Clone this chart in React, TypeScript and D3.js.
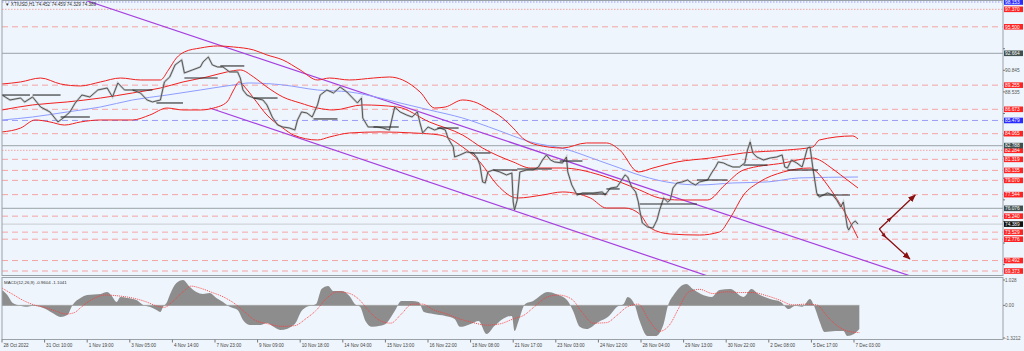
import React from "react";
import * as d3 from "d3";

const W = 1024;
const H = 351;

// ---------- axis labels ----------
const xLabels = [
  "28 Oct 2022", "31 Oct 10:00", "1 Nov 19:00", "3 Nov 05:00", "4 Nov 14:00",
  "7 Nov 23:00", "9 Nov 09:00", "10 Nov 18:00", "14 Nov 04:00", "15 Nov 13:00",
  "16 Nov 22:00", "18 Nov 08:00", "21 Nov 17:00", "23 Nov 03:00", "24 Nov 12:00",
  "28 Nov 04:00", "29 Nov 13:00", "30 Nov 22:00", "2 Dec 08:00", "5 Dec 17:00",
  "7 Dec 03:00",
];
const BARS_PER_LABEL = 32;
const priceTicks = [93.155, 90.845, 88.535, 86.225, 83.915, 81.605, 79.295, 76.985, 74.675, 72.365, 70.055];
const macdTicks = [1.028, 0.0, -1.3212];
const macdTickText = ["1.028", "0.00", "-1.3212"];

// ---------- horizontal levels ----------
const levelsRed = [97.37, 95.5, 89.255, 86.673, 84.065, 82.284, 81.319, 80.135, 79.07, 77.544, 75.24, 73.529, 72.776, 70.492, 69.373];
const levelsRedDotted = [97.37, 82.284];
const levelsBlue = [98.153, 85.479];
const levelsGray = [92.664, 82.788, 76.076];
const lastPrice = 74.389;

// ---------- price path [bar, price] ----------
const price: [number, number][] = [
  [0, 88.2], [6, 87.67], [14, 87.88], [17, 87.45], [23, 87.99], [29, 86.92], [36, 86.39], [42, 85.32],
  [46, 85.74], [51, 86.39], [55, 87.35], [60, 88.2], [66, 87.99], [72, 88.74], [79, 88.95], [83, 87.99],
  [87, 89.49], [92, 88.74], [98, 88.74], [104, 88.42], [109, 87.67], [113, 87.46], [119, 87.67], [122, 89.6],
  [126, 90.13], [130, 91.42], [135, 91.95], [137, 90.56], [143, 90.88], [149, 91.2], [151, 91.74], [155, 92.27],
  [158, 91.42], [162, 91.2], [166, 91.2], [171, 90.67], [177, 90.67], [179, 90.02], [181, 88.74], [184, 88.2],
  [189, 87.88], [196, 87.67], [199, 87.14], [203, 85.85], [207, 85.0], [211, 84.78], [216, 84.67], [220, 84.46],
  [222, 85.53], [225, 86.39], [229, 86.28], [233, 85.85], [237, 87.14], [239, 88.2], [244, 88.74], [249, 88.42],
  [254, 89.06], [259, 88.53], [267, 87.35], [270, 87.88], [271, 85.74], [275, 84.78], [282, 84.78], [286, 84.67],
  [291, 84.46], [295, 86.92], [299, 86.39], [304, 86.06], [308, 85.85], [312, 86.39], [314, 85.21], [316, 84.14],
  [320, 84.78], [325, 84.46], [329, 84.67], [333, 84.46], [335, 83.6], [339, 82.64], [340, 81.57], [344, 81.79],
  [349, 82.11], [354, 82.0], [357, 81.46], [359, 80.72], [361, 78.9], [363, 78.79], [365, 79.97], [369, 80.18],
  [374, 79.97], [379, 79.65], [383, 79.86], [384, 76.76], [385, 75.9], [387, 76.97], [389, 79.97], [394, 80.18],
  [399, 80.18], [403, 80.5], [406, 81.25], [409, 81.79], [412, 81.25], [415, 81.04], [421, 80.93], [424, 81.57],
  [425, 79.97], [428, 78.58], [432, 77.5], [436, 77.72], [444, 77.72], [451, 77.83], [453, 77.5], [457, 78.25],
  [462, 78.36], [468, 79.65], [470, 79.43], [473, 78.36], [476, 77.83], [478, 76.76], [479, 75.9], [481, 74.51],
  [485, 74.08], [489, 73.97], [492, 74.83], [494, 75.9], [497, 77.18], [500, 76.76], [502, 76.97], [504, 78.25],
  [507, 78.79], [511, 78.9], [515, 79.11], [518, 78.79], [521, 78.58], [524, 78.9], [530, 79.11], [533, 79.86],
  [536, 80.5], [538, 81.04], [542, 80.93], [545, 80.72], [549, 80.5], [554, 80.5], [558, 80.93], [560, 82.32],
  [562, 83.18], [564, 82.0], [567, 81.57], [572, 81.25], [577, 81.46], [582, 81.57], [586, 81.79], [588, 80.5],
  [590, 80.39], [593, 81.25], [597, 80.93], [601, 80.5], [603, 81.46], [605, 82.53], [607, 82.64], [609, 80.5],
  [612, 77.72], [614, 77.29], [620, 77.72], [624, 77.5], [627, 76.97], [630, 76.22], [632, 76.76], [635, 74.08],
  [636, 73.76], [639, 74.51], [641, 74.72], [643, 74.389],
];

// ---------- Bollinger bands & slow MA [bar, price] ----------
const bbUpper: [number, number][] = [
  [0, 89.38], [14, 89.6], [29, 90.02], [44, 89.38], [59, 89.17], [74, 89.6], [89, 90.02], [104, 89.81],
  [119, 89.81], [125, 90.88], [131, 92.16], [137, 92.81], [149, 93.23], [162, 93.45], [174, 93.34], [189, 93.02],
  [199, 92.49], [211, 91.95], [224, 90.88], [237, 89.81], [246, 90.02], [261, 89.81], [279, 90.02], [291, 90.13],
  [301, 89.81], [314, 88.53], [325, 86.81], [333, 86.92], [346, 87.67], [357, 87.35], [364, 86.81], [376, 85.74],
  [384, 84.67], [391, 83.6], [402, 82.86], [421, 82.53], [439, 83.07], [454, 83.07], [464, 82.32], [478, 79.97],
  [489, 80.39], [507, 81.04], [532, 81.46], [557, 82.0], [590, 82.32], [609, 82.64], [614, 83.39], [639, 83.82],
  [643, 83.5],
];
const bbMiddle: [number, number][] = [
  [0, 86.6], [23, 87.14], [49, 87.46], [74, 87.88], [98, 88.42], [119, 88.95], [136, 89.6], [154, 90.13],
  [169, 90.67], [179, 90.88], [189, 90.13], [199, 89.06], [211, 87.99], [224, 87.35], [237, 86.81], [249, 86.6],
  [271, 87.14], [297, 86.92], [321, 85.32], [346, 83.92], [361, 82.53], [384, 81.04], [397, 80.39], [421, 80.39],
  [449, 79.65], [464, 78.9], [479, 78.04], [494, 77.18], [509, 76.97], [530, 76.97], [543, 78.58], [557, 80.18],
  [587, 80.93], [609, 81.46], [614, 81.25], [622, 80.5], [630, 79.65], [643, 78.25],
];
const bbLower: [number, number][] = [
  [0, 84.25], [14, 84.67], [25, 85.53], [36, 85.32], [47, 84.99], [59, 85.32], [74, 85.53], [98, 85.53],
  [111, 86.06], [124, 86.81], [136, 86.6], [149, 86.6], [159, 86.81], [169, 87.46], [174, 88.74], [178, 89.6],
  [183, 88.95], [189, 87.88], [199, 86.06], [211, 84.67], [219, 83.92], [237, 83.39], [246, 83.71], [261, 84.14],
  [284, 84.25], [309, 84.14], [329, 83.92], [346, 82.64], [359, 81.04], [372, 78.58], [387, 77.18], [406, 77.5],
  [421, 77.83], [442, 77.18], [454, 76.11], [468, 76.11], [479, 75.47], [487, 73.97], [502, 73.33], [524, 73.22],
  [539, 73.55], [547, 75.04], [557, 77.5], [569, 78.9], [587, 79.97], [607, 80.39], [612, 79.97], [620, 78.58],
  [630, 76.43], [643, 72.9],
];
const maSlow: [number, number][] = [
  [0, 85.53], [23, 85.85], [49, 86.39], [74, 86.92], [98, 87.67], [124, 88.2], [149, 88.74], [174, 89.28],
  [186, 89.49], [211, 89.28], [237, 88.74], [261, 88.53], [284, 87.88], [299, 87.35], [321, 86.6], [346, 85.74],
  [372, 84.46], [397, 83.18], [423, 82.43], [447, 81.25], [464, 80.39], [474, 79.86], [499, 78.9], [524, 78.58],
  [549, 78.79], [575, 78.9], [599, 79.33], [643, 79.43],
];

// ---------- previous-day close segments [startBar, endBar, price] ----------
const prevClose: [number, number, number][] = [
  [0, 21, 88.2], [23, 44, 88.2], [44, 66, 85.85], [98, 113, 88.74], [116, 136, 87.35], [137, 162, 90.02],
  [164, 182, 91.31], [189, 207, 87.88], [234, 252, 85.64], [279, 298, 84.78], [327, 343, 84.67],
  [352, 367, 82.0], [369, 387, 80.18], [387, 413, 80.29], [419, 436, 81.14], [432, 454, 77.61],
  [454, 464, 78.15], [479, 522, 76.54], [522, 545, 79.11], [557, 575, 80.71], [590, 613, 80.18],
  [612, 637, 77.5],
];

// ---------- channel & arrows [bar, price] ----------
const channelUpper: [number, number][] = [[62, 98.367], [678, 69.05]];
const channelLower: [number, number][] = [[156, 86.81], [528, 68.94]];
const arrowUp: [number, number][] = [[659, 73.87], [667, 74.94], [686, 77.5]];
const arrowDown: [number, number][] = [[659, 73.87], [663, 73.12], [682, 70.65]];

// ---------- MACD [bar, value] ----------
const macdMain: [number, number][] = [
  [0, 0.62], [4, 0.42], [8, 0.1], [14, -0.01], [19, -0.06], [23, -0.02], [31, -0.11], [38, -0.31], [44, -0.47],
  [49, -0.39], [53, 0.02], [59, 0.3], [64, 0.42], [74, 0.46], [79, 0.54], [83, 0.34], [86, 0.14], [89, 0.34],
  [94, 0.3], [101, 0.22], [106, 0.02], [111, -0.06], [116, -0.19], [119, -0.27], [121, -0.06], [124, 0.14],
  [126, 0.42], [131, 0.91], [136, 1.03], [141, 0.75], [146, 0.54], [151, 0.46], [156, 0.5], [161, 0.3],
  [166, 0.14], [171, -0.06], [177, -0.19], [181, -0.59], [186, -0.79], [194, -0.79], [199, -0.71], [204, -0.87],
  [209, -1.0], [220, -0.75], [225, -0.23], [229, -0.06], [236, 0.06], [240, 0.66], [245, 0.79], [249, 0.58],
  [255, 0.58], [261, 0.38], [265, 0.06], [269, -0.06], [273, -0.63], [278, -0.87], [284, -0.83], [289, -0.71],
  [295, -0.23], [300, 0.18], [308, 0.18], [313, 0.14], [317, -0.27], [324, -0.35], [333, -0.43], [340, -0.55],
  [344, -0.87], [352, -0.75], [358, -0.63], [364, -1.16], [370, -0.83], [379, -0.47], [383, -0.43], [385, -1.04],
  [388, -0.63], [393, 0.06], [399, 0.18], [410, 0.54], [416, 0.46], [425, 0.18], [429, -0.23], [434, -0.87],
  [439, -0.96], [448, -0.67], [456, -0.43], [462, -0.06], [467, 0.06], [470, 0.34], [475, 0.06], [479, -0.63],
  [485, -1.24], [491, -1.24], [497, -0.75], [500, -0.06], [505, 0.46], [514, 0.87], [519, 0.66], [525, 0.46],
  [533, 0.34], [539, 0.62], [547, 0.66], [557, 0.34], [563, 0.66], [568, 0.46], [577, 0.26], [585, 0.14],
  [591, -0.15], [596, -0.02], [601, -0.06], [607, 0.26], [610, -0.02], [614, -0.63], [618, -1.08], [626, -1.04],
  [632, -1.04], [635, -1.24], [640, -1.16], [644, -0.96],
];
const macdSignal: [number, number][] = [
  [0, 0.7], [8, 0.45], [16, 0.2], [24, 0.02], [32, -0.08], [40, -0.22], [48, -0.35], [54, -0.3], [60, -0.05],
  [68, 0.25], [78, 0.42], [88, 0.38], [98, 0.3], [108, 0.15], [116, -0.02], [122, -0.08], [128, 0.15],
  [136, 0.55], [142, 0.78], [150, 0.68], [158, 0.52], [166, 0.35], [174, 0.1], [182, -0.25], [190, -0.6],
  [200, -0.75], [210, -0.85], [220, -0.82], [228, -0.55], [236, -0.2], [244, 0.3], [252, 0.55], [260, 0.5],
  [268, 0.25], [276, -0.25], [284, -0.62], [292, -0.72], [300, -0.35], [308, 0.05], [316, 0.05], [324, -0.18],
  [334, -0.35], [344, -0.55], [354, -0.7], [364, -0.8], [374, -0.75], [384, -0.55], [392, -0.4], [400, -0.05],
  [410, 0.35], [418, 0.42], [428, 0.25], [436, -0.3], [444, -0.72], [454, -0.7], [462, -0.4], [470, -0.05],
  [478, 0.05], [486, -0.6], [494, -1.05], [502, -0.75], [508, -0.15], [516, 0.55], [524, 0.65], [534, 0.48],
  [544, 0.55], [554, 0.52], [564, 0.52], [574, 0.4], [584, 0.22], [594, 0.02], [604, 0.05], [612, 0.02],
  [620, -0.45], [628, -0.85], [636, -1.05], [644, -1.104],
];

const header = "\u25BC XTIUSD,H1  74.452 74.459 74.329 74.389";
const macdTitle = "MACD(12,26,9) -0.9604 -1.1041";

// ---------- layout ----------
const PL = 2, PR = 1003;
const MAIN_T = 0, MAIN_B = 275;
const MACD_T = 277, MACD_B = 339;
const BG = "#eef5fc";
const FRAME = "#9aa2a8";
const FONT = "'Liberation Sans', Arial, sans-serif";
const BOX_H = 5.6;

export default function App() {
  const x = d3.scaleLinear().domain([0, BARS_PER_LABEL * 20]).range([2, 854]);
  const y = d3.scaleLinear().domain([69.373, 98.153]).range([271, 2]);
  const ym = d3.scaleLinear().domain([-1.3212, 1.028]).range([338, 280]);

  const line = d3.line<[number, number]>().x((d) => x(d[0])).y((d) => y(d[1]));
  const smooth = d3.line<[number, number]>().x((d) => x(d[0])).y((d) => y(d[1])).curve(d3.curveMonotoneX);
  const mline = d3.line<[number, number]>().x((d) => x(d[0])).y((d) => ym(d[1])).curve(d3.curveMonotoneX);
  const marea = d3.area<[number, number]>().x((d) => x(d[0])).y0(ym(0)).y1((d) => ym(d[1])).curve(d3.curveMonotoneX);

  const ray = (pts: [number, number][], toBar: number): [number, number][] => {
    const [a, b] = pts;
    const slope = (b[1] - a[1]) / (b[0] - a[0]);
    return [a, [toBar, a[1] + slope * (toBar - a[0])]];
  };

  // price-axis labels hidden under the level boxes (as in the terminal)
  const boxed = [...levelsRed, ...levelsBlue, ...levelsGray, lastPrice];
  const visibleTicks = priceTicks.filter((p) => boxed.every((b) => Math.abs(y(b) - y(p)) > BOX_H + 0.4));

  const labelBox = (p: number, fill: string, key: string) => {
    const cy = y(p);
    return (
      <g key={key}>
        <rect x={1004} y={cy - BOX_H / 2} width={19} height={BOX_H} fill={fill} />
        <text x={1005} y={cy + 1.8} fontSize={4.8} fill="#fff" fontFamily={FONT}>
          {p.toFixed(3)}
        </text>
      </g>
    );
  };

  return (
    <>
      <style>{`body{margin:0;background:${BG}}`}</style>
      <svg width={W} height={H} style={{ display: "block" }}>
        <defs>
          <clipPath id="mainClip">
            <rect x={PL} y={MAIN_T} width={PR - PL} height={MAIN_B - MAIN_T} />
          </clipPath>
          <clipPath id="macdClip">
            <rect x={PL} y={MACD_T} width={PR - PL} height={MACD_B - MACD_T} />
          </clipPath>
          <marker id="ah" viewBox="0 0 10 10" refX="9" refY="5" markerWidth="6" markerHeight="6" orient="auto">
            <path d="M0,1 L10,5 L0,9 z" fill="#8b1010" />
          </marker>
          <marker id="ahs" viewBox="0 0 10 10" refX="5" refY="5" markerWidth="4" markerHeight="4" orient="auto">
            <path d="M0,1 L10,5 L0,9 z" fill="#8b1010" />
          </marker>
        </defs>
        <rect x={0} y={0} width={W} height={H} fill={BG} />

        {/* main panel */}
        <g clipPath="url(#mainClip)">
          {levelsRed.map((p) => (
            <line key={"r" + p} x1={PL} x2={PR} y1={y(p)} y2={y(p)} stroke="#f4a5a5" strokeWidth={1}
              strokeDasharray={levelsRedDotted.includes(p) ? "1.5,1.5" : "6,4"} />
          ))}
          {levelsBlue.map((p) => (
            <line key={"b" + p} x1={PL} x2={PR} y1={y(p)} y2={y(p)} stroke="#9a9cf5" strokeWidth={1}
              strokeDasharray={p === 98.153 ? "1.5,1.5" : "6,4"} />
          ))}
          {levelsGray.map((p) => (
            <line key={"g" + p} x1={PL} x2={PR} y1={y(p)} y2={y(p)} stroke="#aab4b8" strokeWidth={1.2} />
          ))}
          <line x1={PL} x2={PR} y1={y(lastPrice)} y2={y(lastPrice)} stroke="#c8ccd0" strokeWidth={1} />

          <path d={line(ray(channelUpper, 760)) ?? ""} stroke="#a63fe0" strokeWidth={1.2} fill="none" />
          <path d={line(ray(channelLower, 760)) ?? ""} stroke="#a63fe0" strokeWidth={1.2} fill="none" />

          <path d={smooth(maSlow) ?? ""} stroke="#8f9cff" strokeWidth={1} fill="none" />
          <path d={smooth(bbUpper) ?? ""} stroke="#f02020" strokeWidth={1} fill="none" />
          <path d={smooth(bbMiddle) ?? ""} stroke="#f02020" strokeWidth={1} fill="none" />
          <path d={smooth(bbLower) ?? ""} stroke="#f02020" strokeWidth={1} fill="none" />

          <path d={line(price) ?? ""} stroke="#a8a8a8" strokeWidth={2.2} strokeOpacity={0.55} fill="none" />
          <path d={line(price) ?? ""} stroke="#4a4a4a" strokeWidth={0.9} fill="none" />

          {prevClose.map(([a, b, p], i) => (
            <line key={"pc" + i} x1={x(a)} x2={x(b)} y1={y(p)} y2={y(p)} stroke="#2a2a2a" strokeWidth={1.1} />
          ))}

          <path d={line(arrowUp) ?? ""} stroke="#8b1010" strokeWidth={1.3} fill="none"
            markerEnd="url(#ah)" markerMid="url(#ahs)" />
          <path d={line(arrowDown) ?? ""} stroke="#8b1010" strokeWidth={1.3} fill="none"
            markerEnd="url(#ah)" markerMid="url(#ahs)" />

          <text x={5} y={6} fontSize={4.6} fill="#333" fontFamily={FONT}>{header}</text>
        </g>

        {/* MACD panel */}
        <g clipPath="url(#macdClip)">
          <path d={marea(macdMain) ?? ""} fill="#8d8d8d" />
          <line x1={x(0)} x2={x(macdMain[macdMain.length - 1][0])} y1={ym(0)} y2={ym(0)} stroke="#a0a0a0" strokeWidth={1} />
          <path d={mline(macdSignal) ?? ""} stroke="#ff3a3a" strokeWidth={0.9} strokeDasharray="1,1" fill="none" />
          <text x={4} y={284} fontSize={4.4} fill="#333" fontFamily={FONT}>{macdTitle}</text>
        </g>

        {/* frames */}
        <rect x={PL} y={MAIN_T + 0.5} width={PR - PL} height={MAIN_B - MAIN_T} fill="none" stroke={FRAME} strokeWidth={1} />
        <rect x={PL} y={MACD_T + 0.5} width={PR - PL} height={MACD_B - MACD_T} fill="none" stroke={FRAME} strokeWidth={1} />

        {/* right price axis */}
        {priceTicks.map((p) => (
          <line key={"tk" + p} x1={PR} x2={PR + 2} y1={y(p)} y2={y(p)} stroke="#777" />
        ))}
        {visibleTicks.map((p) => (
          <text key={"t" + p} x={1005} y={y(p) + 1.8} fontSize={4.8} fill="#555" fontFamily={FONT}>{p.toFixed(3)}</text>
        ))}
        {levelsRed.map((p) => labelBox(p, "#ff2323", "lr" + p))}
        {levelsBlue.map((p) => labelBox(p, "#2b2bff", "lb" + p))}
        {levelsGray.map((p) => labelBox(p, "#3f5050", "lg" + p))}
        {labelBox(lastPrice, "#111", "last")}

        {/* MACD axis */}
        {macdTicks.map((v, i) => (
          <g key={"m" + i}>
            <line x1={PR} x2={PR + 2} y1={ym(v)} y2={ym(v)} stroke="#777" />
            <text x={1005} y={ym(v) + 1.8} fontSize={4.6} fill="#555" fontFamily={FONT}>{macdTickText[i]}</text>
          </g>
        ))}

        {/* time axis */}
        {xLabels.map((s, i) => {
          const xx = x(i * BARS_PER_LABEL);
          return (
            <g key={"x" + i}>
              <line x1={xx} x2={xx} y1={MACD_B + 0.5} y2={MACD_B + 3.5} stroke="#777" />
              <text x={xx + 1.5} y={346.5} fontSize={4.6} fill="#444" fontFamily={FONT}>{s}</text>
            </g>
          );
        })}
      </svg>
    </>
  );
}
